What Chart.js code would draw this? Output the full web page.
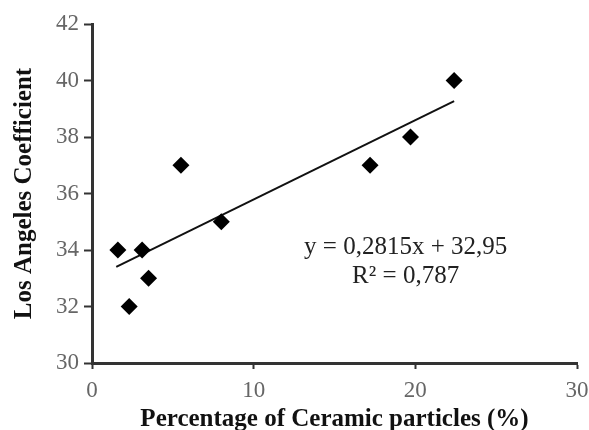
<!DOCTYPE html>
<html>
<head>
<meta charset="utf-8">
<script src="https://cdn.jsdelivr.net/npm/chart.js@4.4.1/dist/chart.umd.min.js"></script>
<style>
  body { margin: 0; background: #fff; }
</style>
</head>
<body>
<canvas id="chart" width="589" height="430"></canvas>
<script>
// ceramic particle content (%) and Los Angeles coefficient
const ceramicPct = [1.6, 2.3, 3.1, 3.5, 5.5, 8.0, 17.2, 19.7, 22.4]
const laCoeff = [34, 32, 34, 33, 37, 35, 37, 38, 40]

// linear trend line ends
const trendX = [1.5, 22.4]
const trendY = [33.4, 39.27]

const xTicks = [0, 10, 20, 30]
const yTicks = [30, 32, 34, 36, 38, 40, 42]

const equationLines = ['y = 0,2815x + 32,95', 'R² = 0,787']

const serif = '"Liberation Serif", "Times New Roman", serif'

// draws the trend equation next to the line
const equationLabel = {
  id: 'equationLabel',
  afterDatasetsDraw(chart) {
    const { ctx, scales } = chart
    const cx = scales.x.getPixelForValue(19.4)
    ctx.save()
    ctx.fillStyle = '#222'
    ctx.font = '25px ' + serif
    ctx.textAlign = 'center'
    ctx.textBaseline = 'middle'
    ctx.fillText(equationLines[0], cx, scales.y.getPixelForValue(34.1))
    ctx.fillText(equationLines[1], cx, scales.y.getPixelForValue(33.08))
    ctx.restore()
  },
}

new Chart(document.getElementById('chart'), {
  type: 'scatter',
  data: {
    datasets: [
      {
        label: 'LA coefficient',
        data: ceramicPct.map((x, i) => ({ x: x, y: laCoeff[i] })),
        pointStyle: 'rectRot',
        pointRadius: 8.5,
        pointHoverRadius: 8.5,
        backgroundColor: '#000',
        borderColor: '#000',
        borderWidth: 0,
      },
      {
        label: 'Trend',
        type: 'line',
        data: trendX.map((x, i) => ({ x: x, y: trendY[i] })),
        borderColor: '#111',
        borderWidth: 2,
        pointRadius: 0,
        fill: false,
      },
    ],
  },
  options: {
    responsive: false,
    animation: false,
    layout: {
      padding: { left: 0, right: 12, top: 24, bottom: 0 },
    },
    plugins: {
      legend: { display: false },
      tooltip: { enabled: false },
    },
    scales: {
      x: {
        type: 'linear',
        min: 0,
        max: 30,
        afterBuildTicks: (scale) => {
          scale.ticks = xTicks.map((v) => ({ value: v }))
        },
        afterFit: (scale) => {
          scale.height = 67
          scale.paddingRight = 12
        },
        border: { display: true, color: '#333', width: 3 },
        grid: {
          drawOnChartArea: false,
          drawTicks: true,
          tickLength: 6,
          tickColor: '#333',
          tickWidth: 2,
        },
        ticks: {
          color: '#666',
          padding: 8,
          font: { family: serif, size: 23 },
        },
        title: {
          display: true,
          text: 'Percentage of Ceramic particles (%)',
          color: '#111',
          font: { family: serif, size: 25, weight: 'bold', lineHeight: 0.8 },
          padding: { top: 8, bottom: 0 },
        },
      },
      y: {
        type: 'linear',
        min: 30,
        max: 42,
        afterBuildTicks: (scale) => {
          scale.ticks = yTicks.map((v) => ({ value: v }))
        },
        afterFit: (scale) => {
          scale.width = 92
        },
        border: { display: true, color: '#333', width: 3 },
        grid: {
          drawOnChartArea: false,
          drawTicks: true,
          tickLength: 8,
          tickColor: '#333',
          tickWidth: 2,
        },
        ticks: {
          color: '#666',
          padding: 5,
          font: { family: serif, size: 23 },
        },
        title: {
          display: true,
          text: 'Los Angeles Coefficient',
          color: '#111',
          font: { family: serif, size: 25, weight: 'bold' },
          padding: { top: 10, bottom: 0 },
        },
      },
    },
  },
  plugins: [equationLabel],
})
</script>
</body>
</html>
